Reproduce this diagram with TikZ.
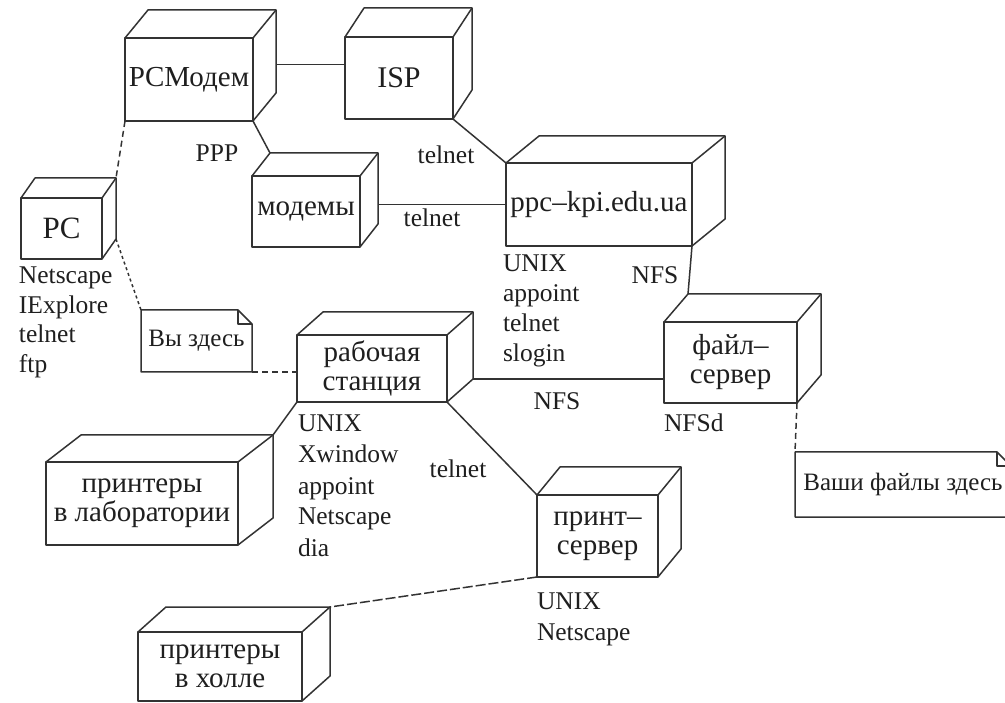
\documentclass[tikz,border=0pt]{standalone}
\usepackage{fontspec}
\setmainfont{Liberation Serif}
\usetikzlibrary{calc}
\tikzset{
  cubeline/.style={line width=1.5pt, draw=black!80, line join=round},
  cubeface/.style={cubeline, inner sep=0pt, outer sep=0pt, align=center,
    font=\fontsize{29}{29}\selectfont, text=black!88},
  notebody/.style={inner sep=0pt, outer sep=0pt, align=center,
    font=\fontsize{25}{30}\selectfont, text=black!88},
  ann/.style={inner sep=0pt, outer sep=0pt, font=\fontsize{25.5}{30}\selectfont, text=black!88},
  dashconn/.style={cubeline, dash pattern=on 6pt off 4pt},
  dotconn/.style={cubeline, dash pattern=on 3pt off 3pt},
  longdash/.style={cubeline, dash pattern=on 10pt off 3pt},
}
% name, x1, y1, x2, y2 (front face), dx, dy (depth), label
\newcommand\cubenode[8]{%
  \pgfmathsetmacro\cubew{#4-#2}%
  \pgfmathsetmacro\cubeh{#5-#3}%
  \node[cubeface, minimum width=\cubew pt, minimum height=\cubeh pt] (#1)
    at ({(#2+#4)/2},{(#3+#5)/2}) {#8};
  \coordinate (#1-btl) at ([shift={(#6,-#7)}]#1.north west);
  \coordinate (#1-btr) at ([shift={(#6,-#7)}]#1.north east);
  \coordinate (#1-bbr) at ([shift={(#6,-#7)}]#1.south east);
  \draw[cubeline] (#1.north west) -- (#1-btl) -- (#1-btr) -- (#1-bbr) -- (#1.south east);
  \draw[cubeline] (#1.north east) -- (#1-btr);
}
% name, x1, y1, x2, y2, text
\newcommand\notenode[6]{%
  \pgfmathsetmacro\notew{#4-#2}%
  \pgfmathsetmacro\noteh{#5-#3}%
  \node[notebody, minimum width=\notew pt, minimum height=\noteh pt] (#1)
    at ({(#2+#4)/2},{(#3+#5)/2}) {#6};
  \draw[cubeline] (#1.south west) -- (#1.north west) -- ([xshift=-14pt]#1.north east)
    -- ([yshift=-14pt]#1.north east) -- (#1.south east) -- cycle;
  \draw[cubeline] ([xshift=-14pt]#1.north east) |- ([yshift=-14pt]#1.north east);
}
\begin{document}
\begin{tikzpicture}[x=1pt,y=-1pt]
\useasboundingbox (0,0) rectangle (1005,703);
\fill[white] (0,0) rectangle (1005,703);
\clip (0,0) rectangle (1005,703);

% nodes (3D boxes)
\cubenode{pcm}{125}{38}{253}{121}{23}{28}{PCМодем}
\cubenode{isp}{345}{37}{453}{119}{19}{29}{\fontsize{30}{30}\selectfont ISP}
\cubenode{pc}{21}{198}{102}{259}{14}{20}{\fontsize{31}{31}\selectfont PC}
\cubenode{mod}{252}{176}{360}{247}{18}{23}{модемы}
\cubenode{ppc}{506}{163}{692}{246}{33}{27}{ppc–kpi.edu.ua}
\cubenode{fs}{664}{322}{797}{403}{24}{28}{файл–\\сервер}
\cubenode{ws}{297}{335}{447}{402}{26}{23}{рабочая\\станция}
\cubenode{lab}{46}{462}{238}{545}{35}{27}{принтеры\\в лаборатории}
\cubenode{ps}{537}{495}{658}{577}{23}{28}{принт–\\сервер}
\cubenode{hall}{138}{632}{302}{701}{28}{25}{принтеры\\в холле}

% notes
\notenode{note1}{141}{310}{252}{372}{Вы здесь}
\notenode{note2}{795}{452}{1011}{517}{Ваши файлы здесь}

% connectors
\draw[cubeline] (pcm-btr |- isp.166.5) -- (isp.166.5);
\draw[dashconn] (pcm.south west) -- (pc-btr);
\draw[cubeline] (pcm.south east) -- (mod-btl);
\draw[cubeline] (isp.south east) -- (ppc.north west);
\draw[cubeline] (mod-btr |- ppc.west) -- (ppc.west);
\draw[cubeline] (ppc.south east) -- (fs-btl);
\draw[dotconn] (pc-bbr) -- (note1.north west);
\draw[dashconn] (note1.south east) -- (note1.south east -| ws.west);
\draw[cubeline] (ws-bbr) -- (ws-bbr -| fs.west);
\draw[cubeline] (ws.south west) -- (lab-btr);
\draw[cubeline] (ws.south east) -- (ps.north west);
\draw[longdash] (ps.south west) -- (hall-btr);
\draw[dashconn] (fs.south east) -- (note2.north west);

% connector labels
\node[ann] (lppp) at (217,153) {PPP};
\node[ann] (lt1) at (446,155) {telnet};
\node[ann] (lt2) at (432,218) {telnet};
\node[ann] (lnfs1) at (655,275) {NFS};
\node[ann] (lnfs2) at (557,401) {NFS};
\node[ann] (lt3) at (458,469) {telnet};

% node annotations
\foreach \t [count=\i] in {Netscape,IExplore,telnet,ftp}
  \node[ann, anchor=base west] (pc-l\i) at (19,{284+29.5*(\i-1)}) {\t};
\foreach \t [count=\i] in {UNIX,appoint,telnet,slogin}
  \node[ann, anchor=base west] (ppc-l\i) at (503,{272+30*(\i-1)}) {\t};
\foreach \t [count=\i] in {UNIX,Xwindow,appoint,Netscape,dia}
  \node[ann, anchor=base west] (ws-l\i) at (298,{432+31*(\i-1)}) {\t};
\foreach \t [count=\i] in {UNIX,Netscape}
  \node[ann, anchor=base west] (ps-l\i) at (537,{609+31*(\i-1)}) {\t};
\node[ann, anchor=base west] (lnfsd) at (664,432) {NFSd};
\end{tikzpicture}
\end{document}
